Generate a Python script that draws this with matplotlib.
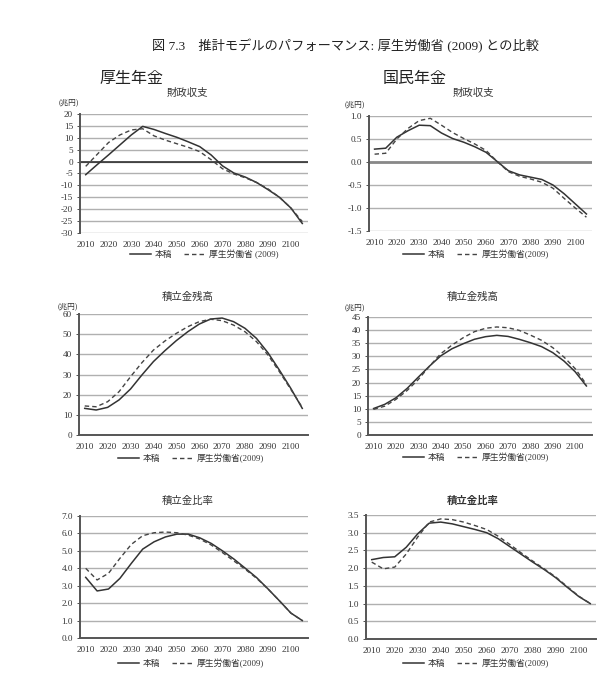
import matplotlib.pyplot as plt
from matplotlib.ticker import FormatStrFormatter

# 年次 (5年刻み)
years = list(range(2010, 2106, 5))

# 厚生年金
kosei_shushi_honko = [-5.5, -1.3, 2.8, 7.0, 11.2, 14.8, 13.5, 11.8, 10.2, 8.3,
                      6.3, 2.8, -1.8, -4.8, -6.5, -8.8, -11.8, -15.0, -19.5, -26.0]
kosei_shushi_mhlw = [-2.0, 3.0, 8.0, 11.2, 13.3, 13.8, 10.8, 9.0, 7.5, 6.0,
                     4.2, 0.8, -3.0, -5.2, -6.8, -8.8, -11.5, -15.0, -19.5, -25.2]
kosei_zandaka_honko = [13.2, 12.4, 13.7, 17.4, 22.8, 29.8, 36.4, 41.8, 46.8, 51.2,
                       55.0, 57.5, 58.0, 56.2, 52.9, 47.9, 40.8, 32.2, 23.1, 13.2]
kosei_zandaka_mhlw = [14.4, 14.0, 16.5, 21.5, 28.9, 35.9, 42.1, 46.6, 50.4, 53.7,
                      56.2, 57.4, 56.7, 54.5, 51.2, 46.3, 39.7, 31.4, 22.6, 13.7]
kosei_hiritsu_honko = [3.48, 2.70, 2.81, 3.42, 4.28, 5.10, 5.52, 5.80, 5.96, 5.96,
                       5.75, 5.43, 5.00, 4.53, 4.00, 3.46, 2.81, 2.13, 1.43, 1.00]
kosei_hiritsu_mhlw = [4.00, 3.33, 3.71, 4.57, 5.37, 5.87, 6.04, 6.08, 6.04, 5.90,
                      5.68, 5.34, 4.90, 4.42, 3.94, 3.42, 2.81, 2.13, 1.43, 1.00]

# 国民年金
kokumin_shushi_honko = [0.28, 0.30, 0.54, 0.68, 0.80, 0.79, 0.63, 0.51, 0.43, 0.33,
                        0.21, 0.01, -0.19, -0.28, -0.33, -0.38, -0.50, -0.69, -0.91, -1.13]
kokumin_shushi_mhlw = [0.17, 0.19, 0.50, 0.73, 0.90, 0.95, 0.80, 0.64, 0.51, 0.39,
                       0.25, 0.01, -0.21, -0.31, -0.37, -0.44, -0.57, -0.79, -1.00, -1.20]
kokumin_zandaka_honko = [10.1, 11.7, 14.2, 17.8, 22.1, 26.3, 30.2, 32.9, 34.8, 36.5,
                         37.5, 38.0, 37.6, 36.5, 35.2, 33.7, 31.4, 28.2, 24.1, 18.7]
kokumin_zandaka_mhlw = [9.8, 11.0, 13.6, 17.0, 21.2, 26.3, 31.0, 34.3, 37.1, 39.4,
                        40.7, 41.2, 40.9, 39.9, 38.1, 36.1, 33.3, 29.7, 25.3, 19.3]
kokumin_hiritsu_honko = [2.24, 2.30, 2.32, 2.59, 2.97, 3.27, 3.30, 3.25, 3.17, 3.09,
                         3.00, 2.83, 2.61, 2.39, 2.17, 1.96, 1.73, 1.46, 1.20, 1.00]
kokumin_hiritsu_mhlw = [2.17, 1.98, 2.03, 2.40, 2.88, 3.30, 3.39, 3.37, 3.30, 3.20,
                        3.09, 2.90, 2.67, 2.43, 2.20, 1.98, 1.75, 1.48, 1.21, 1.00]

xticks = list(range(2010, 2101, 10))

W, H = 605, 682
CJK = ['Noto Sans CJK JP']
SERIF = ['Liberation Serif', 'Noto Sans CJK JP']

fig = plt.figure(figsize=(W / 100, H / 100), dpi=100)


def box(l, t, r, b):
    return [l / W, 1 - b / H, (r - l) / W, (b - t) / H]


def panel(rect, honko, mhlw, ylim, ystep, fmt, title, title_x, title_y,
          leg_x, leg_y, label2, unit=None, zero_line=None, bold=False):
    ax = fig.add_axes(box(*rect))
    ax.plot(years, honko, color='#333333', lw=1.1, label='本稿')
    ax.plot(years, mhlw, color='#444444', lw=1.0, ls=(0, (3.2, 2.2)), label=label2)
    ax.set_xlim(2007.5, 2107.5)
    ax.set_ylim(*ylim)
    yt = []
    v = ylim[0]
    while v <= ylim[1] + 1e-9:
        yt.append(round(v, 2))
        v += ystep
    ax.set_yticks(yt)
    ax.yaxis.set_major_formatter(FormatStrFormatter(fmt))
    ax.set_xticks(xticks)
    ax.grid(axis='y', color='#b0b0b0', lw=1.0)
    ax.set_axisbelow(True)
    for s in ['top', 'right']:
        ax.spines[s].set_visible(False)
    ax.spines['left'].set_color('#555555')
    ax.spines['left'].set_linewidth(1.4)
    if zero_line is not None:
        ax.spines['bottom'].set_visible(False)
        ax.axhline(0, color=zero_line[0], lw=zero_line[1], zorder=1.5)
    else:
        ax.spines['bottom'].set_color('#555555')
        ax.spines['bottom'].set_linewidth(1.4)
    ax.tick_params(axis='y', length=2, width=0.6, pad=3, colors='#333333')
    ax.tick_params(axis='x', length=0, pad=6, colors='#333333')
    for lab in ax.get_xticklabels() + ax.get_yticklabels():
        lab.set_family(SERIF)
        lab.set_fontsize(6.6)
    fig.text(title_x / W, 1 - title_y / H, title, ha='center', va='center',
             family=CJK, fontsize=7.5, color='#333333',
             fontweight='bold' if bold else 'normal')
    if unit:
        fig.text(unit[0] / W, 1 - unit[1] / H, '(兆円)', ha='center', va='center',
                 family=SERIF, fontsize=5.5, color='#333333')
    ax.legend(loc='center', bbox_to_anchor=(leg_x / W, 1 - leg_y / H),
              bbox_transform=fig.transFigure, ncol=2, frameon=False,
              handlelength=2.4, columnspacing=1.4, handletextpad=0.4,
              prop={'family': SERIF, 'size': 6.3}, labelcolor='#333333')
    return ax


panel((80, 114, 308, 233), kosei_shushi_honko, kosei_shushi_mhlw, (-30, 20), 5,
      '%d', '財政収支', 187, 93, 204, 254, '厚生労働省 (2009)',
      unit=(69, 102), zero_line=('#222222', 1.1))
panel((369, 116, 592, 231), kokumin_shushi_honko, kokumin_shushi_mhlw, (-1.5, 1.0), 0.5,
      '%.1f', '財政収支', 473, 93, 476, 254, '厚生労働省(2009)',
      unit=(355, 104), zero_line=('#888888', 2.0))
panel((79, 314, 308, 435), kosei_zandaka_honko, kosei_zandaka_mhlw, (0, 60), 10,
      '%d', '積立金残高', 188, 297, 191, 458, '厚生労働省(2009)', unit=(68, 306))
panel((368, 317, 592, 435), kokumin_zandaka_honko, kokumin_zandaka_mhlw, (0, 45), 5,
      '%d', '積立金残高', 473, 297, 476, 457, '厚生労働省(2009)', unit=(355, 307))
panel((80, 516, 308, 638), kosei_hiritsu_honko, kosei_hiritsu_mhlw, (0, 7.0), 1.0,
      '%.1f', '積立金比率', 188, 501, 191, 663, '厚生労働省(2009)')
panel((366, 515, 596, 639), kokumin_hiritsu_honko, kokumin_hiritsu_mhlw, (0, 3.5), 0.5,
      '%.1f', '積立金比率', 473, 501, 476, 663, '厚生労働省(2009)', bold=True)

fig.text(345 / W, 1 - 46 / H, '図 7.3\u3000推計モデルのパフォーマンス: 厚生労働省 (2009) との比較',
         ha='center', va='center', family=SERIF, fontsize=9.5, color='#222222')
fig.text(131 / W, 1 - 78 / H, '厚生年金', ha='center', va='center',
         family=CJK, fontsize=11.5, color='#222222')
fig.text(415 / W, 1 - 78 / H, '国民年金', ha='center', va='center',
         family=CJK, fontsize=11.5, color='#222222')

fig.savefig('out.png', dpi=100)
